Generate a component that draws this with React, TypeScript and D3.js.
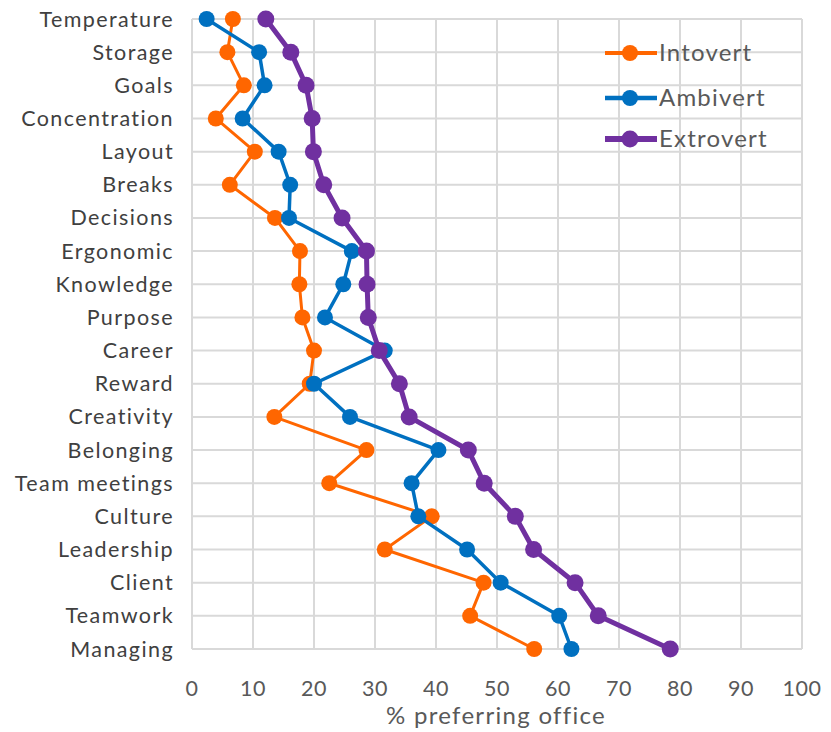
import React from "react";
import * as d3 from "d3";

const categories = [
  "Temperature", "Storage", "Goals", "Concentration", "Layout", "Breaks", "Decisions",
  "Ergonomic", "Knowledge", "Purpose", "Career", "Reward", "Creativity", "Belonging",
  "Team meetings", "Culture", "Leadership", "Client", "Teamwork", "Managing",
];
const introvert = [6.7, 5.8, 8.5, 3.9, 10.3, 6.2, 13.6, 17.7, 17.6, 18.1, 20.0, 19.3, 13.5, 28.6, 22.5, 39.3, 31.6, 47.8, 45.6, 56.1];
const ambivert = [2.4, 11.0, 11.9, 8.3, 14.2, 16.1, 15.9, 26.2, 24.8, 21.8, 31.6, 20.0, 25.9, 40.4, 36.0, 37.1, 45.1, 50.6, 60.2, 62.2];
const extrovert = [12.1, 16.2, 18.7, 19.7, 19.9, 21.6, 24.6, 28.6, 28.7, 28.9, 30.7, 34.0, 35.6, 45.3, 47.9, 53.0, 56.0, 62.8, 66.6, 78.4];
const xTicks = [0, 10, 20, 30, 40, 50, 60, 70, 80, 90, 100];
const seriesNames = ["Intovert", "Ambivert", "Extrovert"];
const xTitle = "% preferring office";

const W = 831;
const H = 732;
const FONT = "Lato, 'Open Sans', sans-serif";
const TEXT = "#404040";

export default function App() {
  const x = d3.scaleLinear().domain([0, 100]).range([192, 802]);
  const y = d3.scalePoint<string>().domain(categories).range([19, 649]);
  const series = [
    { name: seriesNames[0], values: introvert, color: "#FF6600", width: 3, r: 8 },
    { name: seriesNames[1], values: ambivert, color: "#0070C0", width: 3.5, r: 8 },
    { name: seriesNames[2], values: extrovert, color: "#7030A0", width: 5, r: 8.5 },
  ];
  const line = d3
    .line<number>()
    .x((d) => x(d))
    .y((_, i) => y(categories[i]) as number);
  const legendY = [53, 98, 139];

  return (
    <svg width={W} height={H} style={{ position: "absolute", left: 0, top: 0, background: "#fff" }}>
      {xTicks.map((t) => (
        <line key={"gx" + t} x1={x(t)} x2={x(t)} y1={19} y2={649} stroke="#d9d9d9" strokeWidth={2} />
      ))}
      {categories.map((c) => (
        <line key={"gy" + c} x1={x(0)} x2={x(100)} y1={y(c)} y2={y(c)} stroke="#d9d9d9" strokeWidth={2} />
      ))}
      {categories.map((c) => (
        <text key={"l" + c} x={174} y={y(c)} dy="0.35em" textAnchor="end" fontFamily={FONT} fontSize={21.5} letterSpacing={1.4} fill={TEXT}>
          {c}
        </text>
      ))}
      {xTicks.map((t) => (
        <text key={"t" + t} x={x(t)} y={688} dy="0.35em" textAnchor="middle" fontFamily={FONT} fontSize={21.5} letterSpacing={0.5} fill="#595959">
          {t}
        </text>
      ))}
      <text x={496} y={716} dy="0.35em" textAnchor="middle" fontFamily={FONT} fontSize={24} letterSpacing={1.3} fill="#595959">
        {xTitle}
      </text>
      {series.map((s) => (
        <g key={s.name}>
          <path d={line(s.values) || ""} fill="none" stroke={s.color} strokeWidth={s.width} strokeLinejoin="round" />
          {s.values.map((v, i) => (
            <circle key={i} cx={x(v)} cy={y(categories[i])} r={s.r} fill={s.color} />
          ))}
        </g>
      ))}
      {series.map((s, i) => (
        <g key={"lg" + s.name}>
          <line x1={605} x2={657} y1={legendY[i]} y2={legendY[i]} stroke={s.color} strokeWidth={s.width + 1} />
          <circle cx={630} cy={legendY[i]} r={s.r} fill={s.color} />
          <text x={659} y={legendY[i]} dy="0.35em" fontFamily={FONT} fontSize={24} letterSpacing={1.2} fill="#595959">
            {s.name}
          </text>
        </g>
      ))}
    </svg>
  );
}
